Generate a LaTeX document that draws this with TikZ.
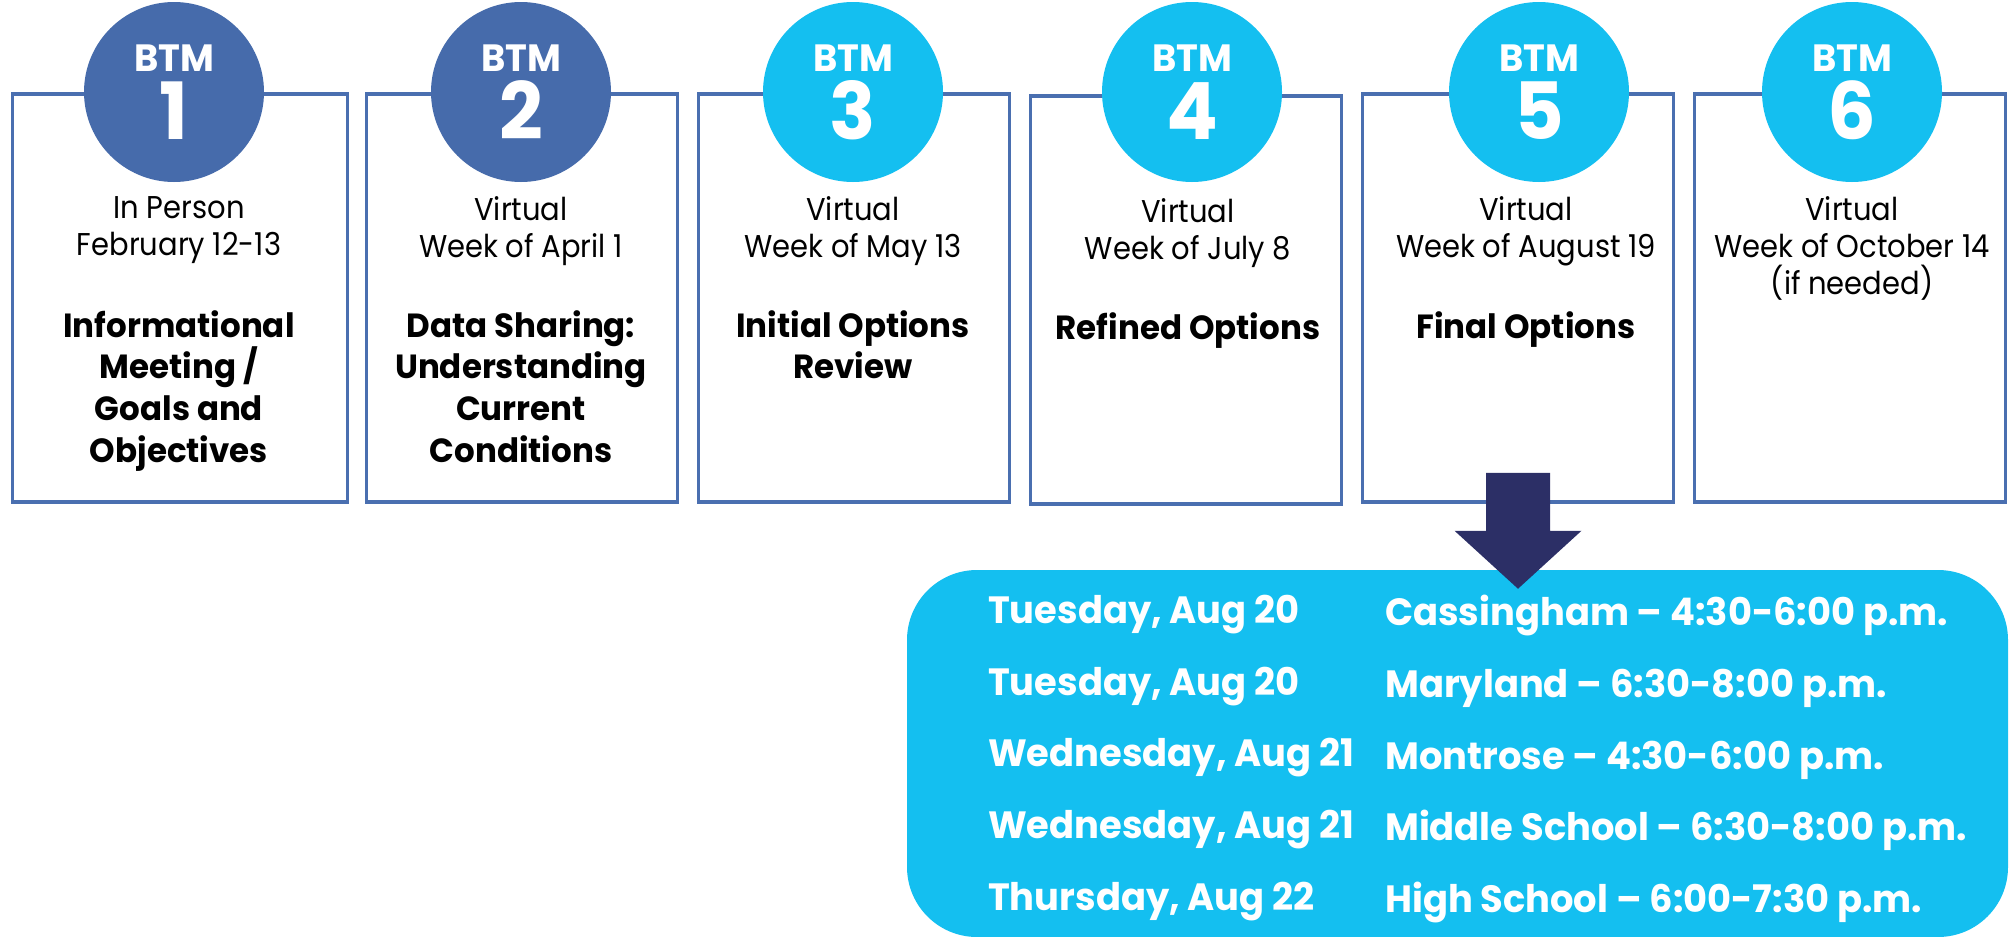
\documentclass[tikz,border=0pt]{standalone}
\usepackage{fontspec}
\setmainfont{Poppins}[UprightFeatures={FakeStretch=0.92}, BoldFeatures={FakeStretch=0.97}]
\usetikzlibrary{positioning}

\definecolor{boxline}{HTML}{4A6FB0}
\definecolor{darkbtm}{HTML}{466BAB}
\definecolor{lightbtm}{HTML}{14BFF0}
\definecolor{navy}{HTML}{2C2F66}

\newcommand{\btmnum}{\fontsize{79}{68}\selectfont}

\begin{document}
\begin{tikzpicture}[x=1pt, y=-1pt, on grid, node distance=332pt,
    box/.style={draw=boxline, line width=3.5pt, fill=white, inner sep=0pt,
        minimum width=311pt, minimum height=408pt},
    btm/.style={circle, fill=#1, minimum size=180pt, inner sep=0pt, text=white,
        align=center, font=\bfseries\fontsize{38}{68}\selectfont},
    when/.style={anchor=north, align=center, inner sep=0pt,
        font=\fontsize{31.5}{37}\selectfont},
    topic/.style={anchor=north, align=center, inner sep=0pt,
        font=\bfseries\fontsize{33.5}{41.7}\selectfont},
    slot/.style={anchor=north west, align=left, inner sep=0pt, text=white,
        font=\bfseries\fontsize{38}{71.7}\selectfont}]
    \useasboundingbox (0,0) rectangle (2011,937);

    % meeting boxes
    \node[box, minimum width=335pt] (b1) at (180,298) {};
    \node[box] (b2) [right=342pt of b1] {};
    \node[box] (b3) [right=of b2] {};
    \node[box] (b4) [below right=2pt and 332pt of b3] {};
    \node[box] (b5) [above right=2pt and 332pt of b4] {};
    \node[box] (b6) [right=of b5] {};

    % numbered discs
    \node[btm=darkbtm]  (c1) at (174,92)  {BTM\\{\btmnum 1}};
    \node[btm=darkbtm]  (c2) at (521,92)  {BTM\\{\btmnum 2}};
    \node[btm=lightbtm] (c3) at (853,92)  {BTM\\{\btmnum 3}};
    \node[btm=lightbtm] (c4) at (1192,92) {BTM\\{\btmnum 4}};
    \node[btm=lightbtm] (c5) at (1539,92) {BTM\\{\btmnum 5}};
    \node[btm=lightbtm] (c6) at (1852,92) {BTM\\{\btmnum 6}};

    \node[when] (w1) at (179,196)  {In Person\\February 12-13};
    \node[when] (w2) at (521,196)  {Virtual\\Week of April 1};
    \node[when] (w3) at (853,196)  {Virtual\\Week of May 13};
    \node[when] (w4) at (1188,198) {Virtual\\Week of July 8};
    \node[when] (w5) at (1526,196) {Virtual\\Week of August 19};
    \node[when] (w6) at (1852,196) {Virtual\\Week of October 14\\(if needed)};

    \node[topic] (t1) at (179,310)  {Informational\\Meeting /\\Goals and\\Objectives};
    \node[topic] (t2) at (521,310)  {Data Sharing:\\Understanding\\Current\\Conditions};
    \node[topic] (t3) at (853,310)  {Initial Options\\Review};
    \node[topic] (t4) at (1188,312) {Refined Options};
    \node[topic] (t5) at (1526,311) {Final Options};

    % listening sessions
    \node[fill=lightbtm, rounded corners=70pt, inner sep=0pt,
        minimum width=1101pt, minimum height=367pt] (s) at (1457.5,753.5) {};
    \coordinate (tip) at ([yshift=-85pt]b5.south);
    \fill[navy] (tip) -- ++(63.5,-58) -- ++(-31.5,0) -- ++(0,-58) -- ++(-64,0)
        -- ++(0,58) -- ++(-31.5,0) -- cycle;

    \node[slot] (days) at (988,595)
        {Tuesday, Aug 20\\Tuesday, Aug 20\\Wednesday, Aug 21\\Wednesday, Aug 21\\Thursday, Aug 22};
    \node[slot] (venues) at (1385,595)
        {Cassingham – 4:30-6:00 p.m.\\Maryland – 6:30-8:00 p.m.\\Montrose – 4:30-6:00 p.m.\\Middle School – 6:30-8:00 p.m.\\High School – 6:00-7:30 p.m.};
\end{tikzpicture}
\end{document}
